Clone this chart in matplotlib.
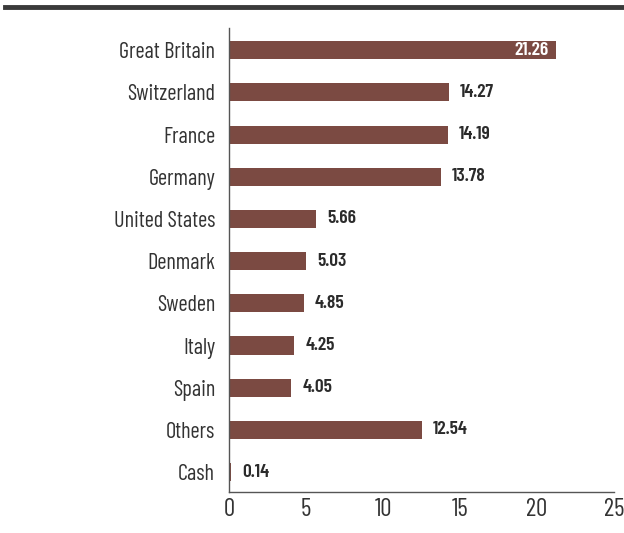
import matplotlib.pyplot as plt
from matplotlib.lines import Line2D

countries = ['Great Britain', 'Switzerland', 'France', 'Germany', 'United States',
             'Denmark', 'Sweden', 'Italy', 'Spain', 'Others', 'Cash']
weights = [21.26, 14.27, 14.19, 13.78, 5.66, 5.03, 4.85, 4.25, 4.05, 12.54, 0.14]

plt.rcParams['font.family'] = ['Barlow Condensed', 'DejaVu Sans']

fig = plt.figure(figsize=(6.24, 5.33), dpi=100)
ax = fig.add_axes([0.367, 0.077, 0.617, 0.87])

pos = list(range(len(countries)))
ax.barh(pos, weights, height=0.43, color='#7b4a42')
for y, v in zip(pos, weights):
    if v > 20:
        ax.text(v - 0.5, y, f'{v:.2f}', va='center', ha='right', color='white',
                fontsize=14, fontweight=600)
    else:
        ax.text(v + 0.7, y, f'{v:.2f}', va='center', ha='left', color='#2b2b2b',
                fontsize=14, fontweight=600)

ax.set_yticks(pos)
ax.set_yticklabels(countries, fontsize=16, color='#333333', fontweight=400)
ax.set_ylim(10.47, -0.52)
ax.set_xlim(0, 25)
ax.set_xticks([0, 5, 10, 15, 20, 25])
ax.set_xticklabels([0, 5, 10, 15, 20, 25], fontsize=18, color='#333333', fontweight=400)
ax.tick_params(axis='x', length=0, pad=4)
ax.tick_params(axis='y', length=0, pad=10)
for s in ['top', 'right']:
    ax.spines[s].set_visible(False)
for s in ['left', 'bottom']:
    ax.spines[s].set_color('#555555')
    ax.spines[s].set_linewidth(1)

fig.add_artist(Line2D([0.008, 1.0], [0.986, 0.986], color='#3a3a3a', linewidth=3.5))

fig.savefig('out.png', dpi=100)
